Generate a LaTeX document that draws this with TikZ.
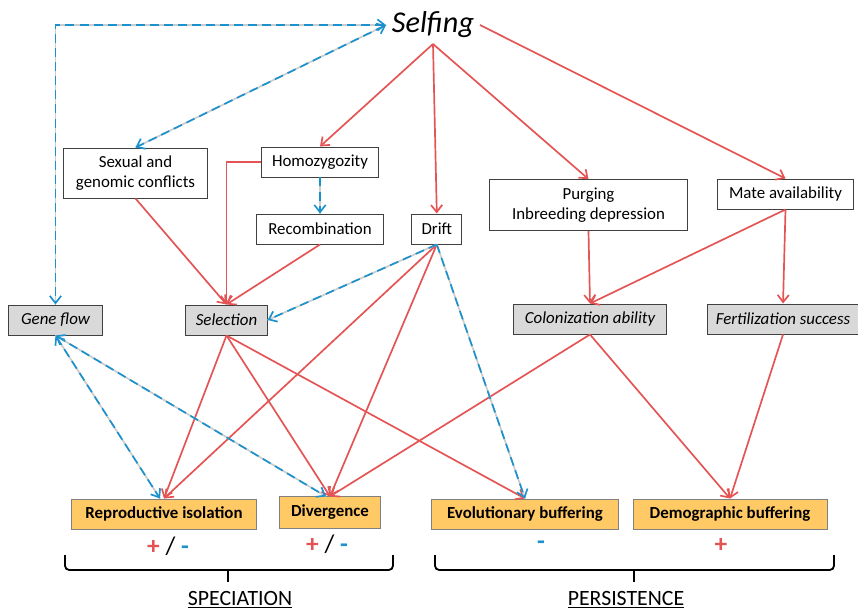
\documentclass[tikz,border=0pt]{standalone}
\usepackage{fontspec}
\setmainfont{Carlito}
\usepackage{xcolor}
\usepackage{tikz}
\usetikzlibrary{arrows.meta,positioning}
\definecolor{posred}{RGB}{229,84,84}
\definecolor{negblue}{RGB}{27,145,205}
\definecolor{boxgray}{RGB}{217,217,217}
\definecolor{boxorange}{RGB}{255,201,102}
\newcommand{\boxfont}{\fontsize{12}{14.5}\selectfont}
\tikzset{
  factbox/.style={rectangle, draw=black!75, line width=0.7pt, fill=white, align=center,
                  inner sep=2pt, minimum height=0.75cm, font=\boxfont},
  traitbox/.style={factbox, fill=boxgray, font=\boxfont\itshape},
  outbox/.style={factbox, fill=boxorange, draw=black!50, font=\boxfont\bfseries},
  signlabel/.style={inner sep=1pt, font=\fontsize{18}{19}\selectfont},
  grouplabel/.style={inner sep=1pt, font=\fontsize{15.5}{17}\selectfont},
  bracket/.style={line width=1.3pt, draw=black, rounded corners=3pt},
  posarr/.style={-{Straight Barb[length=1.8mm,width=2.8mm]}, line width=1.2pt, draw=posred},
  negline/.style={line width=1.2pt, draw=negblue, dash pattern=on 6.4pt off 3.6pt,
                  preaction={draw=black!20, solid, line width=1.2pt, arrows=-}},
  negarr/.style={negline, -{Straight Barb[length=1.8mm,width=2.8mm]}},
  negboth/.style={negline, {Straight Barb[length=1.8mm,width=2.8mm]}-{Straight Barb[length=1.8mm,width=2.8mm]}},
}
\newcommand{\possign}{\textcolor{posred}{\textbf{+}}}
\newcommand{\negsign}{\textcolor{negblue}{\textbf{-}}}
\begin{document}
\begin{tikzpicture}[x=0.025cm, y=-0.025cm]
    \useasboundingbox (0,0) rectangle (858,611);
    \node[inner sep=4pt, font=\fontsize{21.5}{23}\selectfont\itshape] (self) at (433,25) {Selfing};
    % causes
    \node[factbox, minimum width=3.58cm, minimum height=1.25cm] (conf) at (135.5,173) {Sexual and\\genomic conflicts};
    \node[factbox, minimum width=2.9cm] (homo) at (320,162) {Homozygozity};
    \node[factbox, minimum width=3.18cm, below=9mm of homo] (recomb) {Recombination};
    \node[factbox, minimum width=1.25cm, right=6.8mm of recomb] (drift) {Drift};
    \node[factbox, minimum width=4.93cm, minimum height=1.27cm] (purge) at (588.5,205) {Purging\\Inbreeding depression};
    \node[factbox, minimum width=3.38cm] (mate) at (785.5,194) {Mate availability};
    % processes
    \node[traitbox, minimum width=2.33cm] (gene) at (55.5,320) {Gene flow};
    \node[traitbox, minimum width=2.03cm] (sel) at (226.5,320) {Selection};
    \node[traitbox, minimum width=3.8cm] (colon) at (590,319) {Colonization ability};
    \node[traitbox, minimum width=3.8cm, right=1cm of colon] (fert) {Fertilization success};
    % outcomes
    \node[outbox, minimum width=4.6cm] (repro) at (164,514) {Reproductive isolation};
    \node[outbox, minimum width=2.5cm, minimum height=0.78cm] (diverg) at (330,512.5) {Divergence};
    \node[outbox, minimum width=4.65cm] (evol) at (525,514) {Evolutionary buffering};
    \node[outbox, minimum width=4.85cm, right=3.5mm of evol] (demo) {Demographic buffering};
    \node[signlabel] (reprosign) at (168,546) {\possign{} / \negsign};
    \node[signlabel] (divsign) at (327,544) {\possign{} / \negsign};
    \node[signlabel] (evolsign) at (541,545) {\negsign};
    \node[signlabel] (demosign) at (721,545) {\possign};
    % brackets
    \draw[bracket] (65,555) -- (65,570) -- (393,570) -- (393,555);
    \draw[bracket] (228,570) -- (228,582);
    \draw[bracket] (435,555) -- (435,570) -- (834,570) -- (834,555);
    \draw[bracket] (634,570) -- (634,582);
    \node[grouplabel] (spec) at (240,600) {\underline{SPECIATION}};
    \node[grouplabel] (pers) at (626,600) {\underline{PERSISTENCE}};
    % positive effects
    \draw[posarr] (self.south) -- (homo.north);
    \draw[posarr] (self.south) -- (drift.north);
    \draw[posarr] (self.south) -- (purge.north);
    \draw[posarr] (self.east) -- (mate.north);
    \draw[posarr] (homo.west) -| (sel.north);
    \draw[posarr] (conf.south) -- (sel.north);
    \draw[posarr] (recomb.south) -- (sel.north);
    \draw[posarr] (purge.south) -- (colon.north);
    \draw[posarr] (mate.south) -- (colon.north);
    \draw[posarr] (mate.south) -- (fert.north);
    \draw[posarr] (sel.south) -- (repro.north);
    \draw[posarr] (sel.south) -- (diverg.north);
    \draw[posarr] (sel.south) -- (evol.north);
    \draw[posarr] (drift.south) -- (repro.north);
    \draw[posarr] (drift.south) -- (diverg.north);
    \draw[posarr] (colon.south) -- (diverg.north);
    \draw[posarr] (colon.south) -- (demo.north);
    \draw[posarr] (fert.south) -- (demo.north);
    % negative effects
    \draw[negboth] (self.west) -| (gene.north);
    \draw[negboth] (self.west) -- (conf.north);
    \draw[negarr] (homo.south) -- (recomb.north);
    \draw[negarr] (drift.south) -- (sel.east);
    \draw[negarr] (drift.south) -- (evol.north);
    \draw[negboth] (gene.south) -- ([xshift=-1mm]repro.north);
    \draw[negboth] (gene.south) -- ([xshift=-1mm]diverg.north);
\end{tikzpicture}
\end{document}
